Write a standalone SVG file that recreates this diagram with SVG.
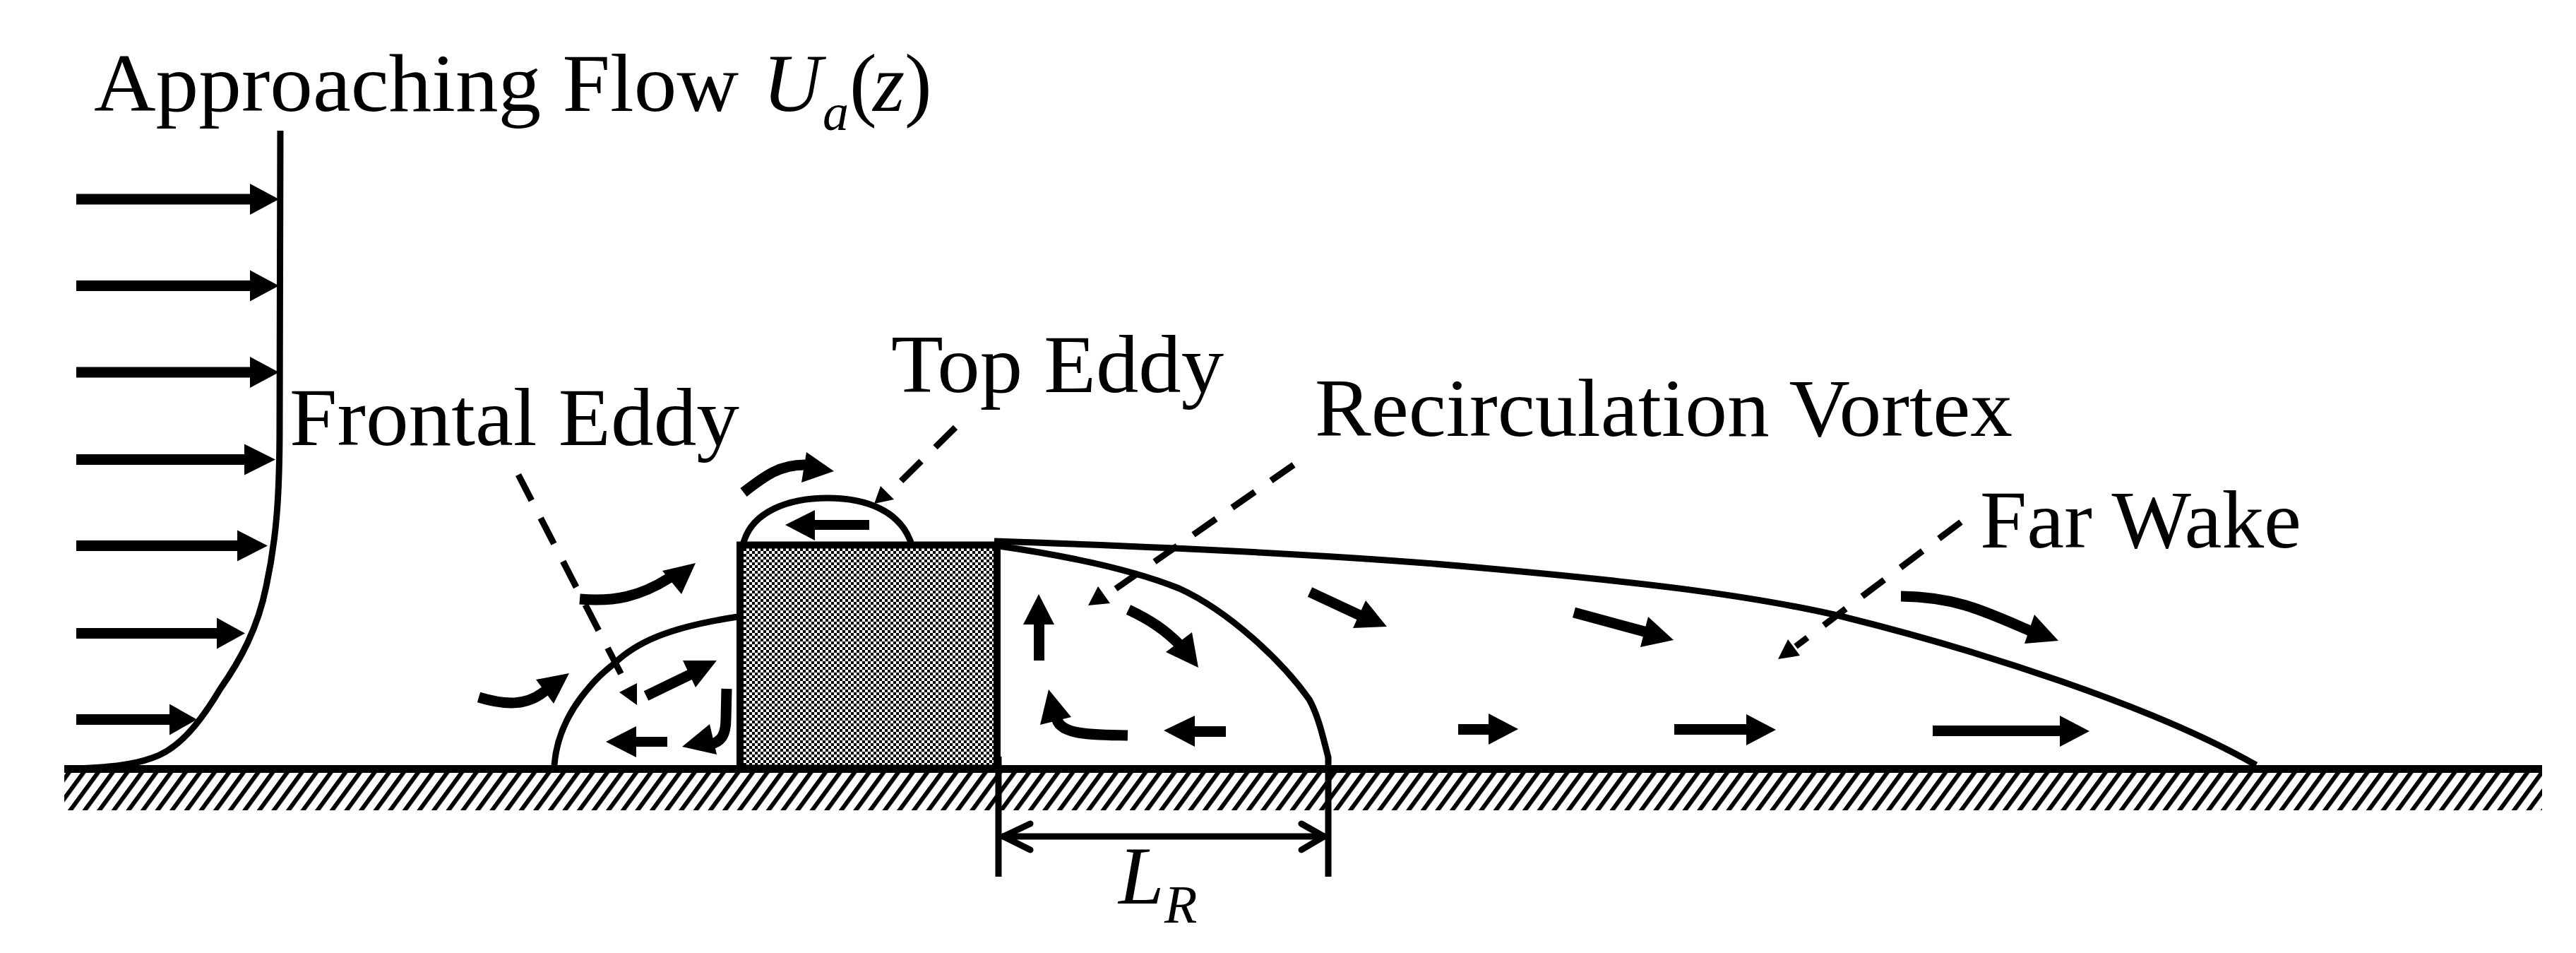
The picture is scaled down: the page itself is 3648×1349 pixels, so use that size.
<svg xmlns="http://www.w3.org/2000/svg" width="3648" height="1349" viewBox="0 0 3648 1349">
<style>
.t{font-family:"Liberation Serif","Times New Roman",serif;font-size:116px;fill:#000}
.i{font-style:italic}
.c{fill:none;stroke:#000;stroke-width:9}
.s{fill:none;stroke:#000;stroke-width:15}
.h{fill:#000;stroke:none}
.d{fill:none;stroke:#000;stroke-width:9}
</style>
<defs>
<pattern id="hatch" patternUnits="userSpaceOnUse" width="20.6" height="100" patternTransform="translate(1023.5,1146) skewX(-36.3)"><rect width="20.6" height="100" fill="#fff"/><rect width="7.5" height="100" fill="#000"/></pattern>
<pattern id="check" patternUnits="userSpaceOnUse" width="8" height="8" x="1053" y="776"><rect width="8" height="8" fill="#fff"/><rect width="4" height="4" fill="#000"/><rect x="4" y="4" width="4" height="4" fill="#000"/></pattern>
</defs>
<rect width="3648" height="1349" fill="#fff"/>

<g id="ground">
<rect x="91" y="1093" width="3509" height="54" fill="url(#hatch)"/>
<rect x="91" y="1083" width="3509" height="11" fill="#000"/>
</g>

<g id="building">
<rect x="1048" y="771.500" width="364" height="316" fill="url(#check)" stroke="#000" stroke-width="10"/>
</g>

<g id="approaching-flow">
<path class="c" d="M397,185 L396,600 C396,700 392,760 377,830 C365,890 340,935 312,975 C285,1020 255,1060 215,1073 C185,1084 150,1086 105,1088"/>
<g id="inflow-arrows">
<rect class="h" x="108" y="274.500" width="250" height="15"/><polygon class="h" points="354,260 395,282 354,304"/>
<rect class="h" x="108" y="397" width="250" height="15"/><polygon class="h" points="354,382.500 395,404.500 354,426.500"/>
<rect class="h" x="108" y="519.500" width="250" height="15"/><polygon class="h" points="354,505 395,527 354,549"/>
<rect class="h" x="108" y="643" width="242" height="15"/><polygon class="h" points="346,628.500 390,650.500 346,672.500"/>
<rect class="h" x="108" y="765" width="232" height="15"/><polygon class="h" points="336,750.500 379,772.500 336,794.500"/>
<rect class="h" x="108" y="889" width="203" height="15"/><polygon class="h" points="307,874.500 347,896.500 307,918.500"/>
<rect class="h" x="108" y="1011" width="136" height="15"/><polygon class="h" points="240,996.500 279,1018.500 240,1040.500"/>
</g>
</g>

<g id="frontal-eddy">
<path class="c" d="M785,1083 C788,1045 802,1015 823,987 C840,965 850,955 869,940 C900,910 945,888 1045,873"/>
<path class="s" d="M821,848 C870,852 905,845 948,818"/><polygon class="h" points="985,797 938,808 965,841"/>
<path class="s" d="M678,987 C715,998 745,1000 772,978"/><polygon class="h" points="806,953 759,962 784,996"/>
<path class="s" d="M915,985 L977,955"/><polygon class="h" points="1015,935 967,935 985,973"/>
<path class="s" d="M1029,975 L1028,1017 C1028,1040 1022,1050 1005,1054"/><polygon class="h" points="966,1057 1005,1025 1015,1068"/>
<rect class="h" x="897" y="1043" width="48" height="14"/><polygon class="h" points="858,1050 901,1028 901,1072"/>
</g>

<g id="top-eddy">
<path class="c" d="M1053,768 C1065,725 1115,705 1172,705 C1230,705 1275,725 1290,768"/>
<path class="s" d="M1053,697 C1085,672 1105,658 1140,658"/><polygon class="h" points="1181,667 1142,640 1135,683"/>
<rect class="h" x="1150" y="736" width="81" height="14"/><polygon class="h" points="1112,743 1154,722 1154,765"/>
</g>

<g id="recirculation-vortex">
<path class="c" d="M1408,772 C1500,785 1600,805 1670,833 C1740,865 1815,935 1854,990 C1868,1015 1875,1050 1881,1072"/>
<rect class="h" x="1464" y="880" width="15" height="55"/><polygon class="h" points="1471,841 1449,884 1493,884"/>
<path class="s" d="M1598,863 C1630,878 1650,892 1671,913"/><polygon class="h" points="1697,945 1688,895 1651,923"/>
<rect class="h" x="1688" y="1028" width="48" height="15"/><polygon class="h" points="1648,1034 1692,1013 1692,1057"/>
<path class="s" d="M1597,1041 C1550,1040 1495,1042 1496,1012"/><polygon class="h" points="1485,976 1517,1015 1473,1026"/>
</g>

<g id="far-wake">
<path class="c" d="M1408,766 C1700,776 1950,790 2100,804 C2300,822 2470,840 2610,873 C2800,920 3050,1000 3195,1083"/>
<path class="s" d="M1855,838 L1930,873"/><polygon class="h" points="1964,887 1934,850 1916,889"/>
<path class="s" d="M2229,867 L2340,897"/><polygon class="h" points="2370,906 2334,873 2323,916"/>
<path class="s" d="M2692,844 C2770,845 2810,865 2875,893"/><polygon class="h" points="2915,907 2881,870 2867,911"/>
<rect class="h" x="2065" y="1025" width="47" height="15"/><polygon class="h" points="2108,1010 2150,1032 2108,1054"/>
<rect class="h" x="2371" y="1025" width="106" height="15"/><polygon class="h" points="2473,1011 2515,1033 2473,1055"/>
<rect class="h" x="2737" y="1027" width="184" height="15"/><polygon class="h" points="2917,1013 2959,1035 2917,1057"/>
</g>

<g id="reattachment-length">
<path class="c" d="M1414,1071 V1241 M1881,1071 V1241 M1419,1184 H1877"/>
<path class="c" stroke-linecap="round" d="M1459,1166 L1421,1184 L1459,1203 M1843,1166 L1875,1184 L1843,1203"/>
<text class="t i" x="1584" y="1279">L<tspan x="1649" y="1306" font-size="76">R</tspan></text>
</g>

<g id="connectors">
<path class="d" stroke-dasharray="41 28" d="M734,672 L880,955"/><polygon class="h" points="877,980 902,967 902,998"/>
<path class="d" stroke-dasharray="40 28" d="M1353,605 L1276,681"/><polygon class="h" points="1238,713 1247,688 1266,707"/>
<path class="d" stroke-dasharray="39 28" d="M1832,658 L1572,839"/><polygon class="h" points="1541,857 1555,830 1572,854"/>
<path class="d" stroke-dasharray="39 29" d="M2777,739 L2543,915"/><polygon class="h" points="2518,933 2532,905 2549,928"/>
</g>

<g id="labels">
<text class="t"><tspan x="133" y="157" textLength="913" lengthAdjust="spacingAndGlyphs">Approaching Flow</tspan> <tspan class="i" x="1080" y="157">U</tspan><tspan class="i" x="1165" y="184" font-size="74">a</tspan><tspan x="1203" y="157">(</tspan><tspan class="i" x="1236" y="157">z</tspan><tspan x="1281" y="157">)</tspan></text>
<text class="t" x="410" y="630" textLength="637" lengthAdjust="spacingAndGlyphs">Frontal Eddy</text>
<text class="t" x="1262" y="555" textLength="471" lengthAdjust="spacingAndGlyphs">Top Eddy</text>
<text class="t" x="1862" y="617" textLength="988" lengthAdjust="spacingAndGlyphs">Recirculation Vortex</text>
<text class="t" x="2804" y="775" textLength="455" lengthAdjust="spacingAndGlyphs">Far Wake</text>
</g>
</svg>
